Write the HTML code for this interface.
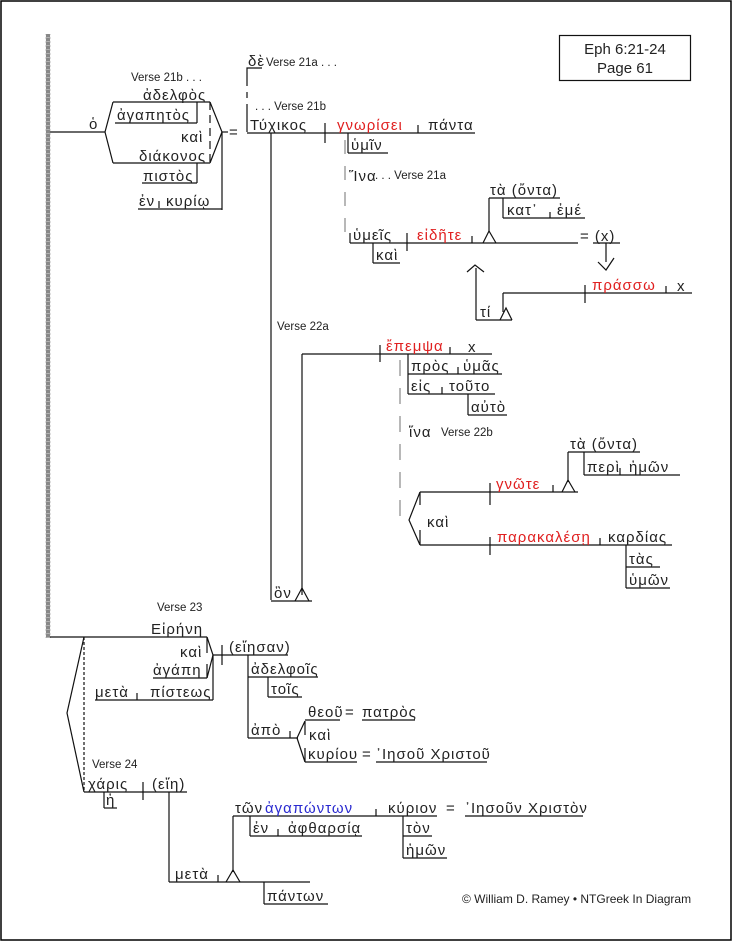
<!DOCTYPE html>
<html><head><meta charset="utf-8"><style>
html,body{margin:0;padding:0;background:#fff}
svg{display:block}
text{font-family:"Liberation Sans","DejaVu Sans",sans-serif;fill:#222}
.g{font-size:15px;letter-spacing:1px}
.v{font-size:11.5px}
.r{fill:#e02020}
.b{fill:#2a2ad0}
</style></head><body>
<svg width="733" height="942" viewBox="0 0 733 942" xmlns="http://www.w3.org/2000/svg">
<defs>
<pattern id="ch" x="45" y="0" width="7" height="4" patternUnits="userSpaceOnUse">
<path d="M1,0 L5,2 L1,4 M5,0 L1,2 L5,4" stroke="#555" stroke-width="0.8" fill="none"/>
</pattern>
</defs>
<rect x="1" y="1" width="730" height="939" fill="none" stroke="#000" stroke-width="1.5"/>
<rect x="45" y="34" width="7" height="604" fill="url(#ch)"/>
<g stroke="#111" stroke-width="1.2" fill="none">
<line x1="50" y1="132" x2="105" y2="132"/>
<polyline points="113,102 105,132 113,163"/>
<line x1="113" y1="102" x2="210" y2="102"/>
<line x1="113" y1="163" x2="210" y2="163"/>
<line x1="115" y1="123" x2="197" y2="123"/>
<line x1="197" y1="102" x2="197" y2="123"/>
<line x1="210" y1="102" x2="210" y2="163" stroke-dasharray="8,5"/>
<polyline points="210,102 222,132 210,163"/>
<line x1="222" y1="132" x2="222" y2="210"/>
<line x1="142" y1="183" x2="197" y2="183"/>
<line x1="197" y1="163" x2="197" y2="183"/>
<line x1="138" y1="209" x2="222" y2="209"/>
<line x1="159" y1="201" x2="159" y2="208"/>
<line x1="222" y1="132" x2="228" y2="132"/>
<polyline points="262,68 247,68 247,86"/>
<line x1="247" y1="92" x2="247" y2="98"/>
<line x1="247" y1="104" x2="247" y2="132"/>
<line x1="247" y1="133" x2="475" y2="133"/>
<line x1="325" y1="123" x2="325" y2="143"/>
<line x1="418" y1="125" x2="418" y2="133"/>
<line x1="271" y1="133" x2="271" y2="600"/>
<line x1="348" y1="133" x2="348" y2="153"/>
<line x1="348" y1="153" x2="388" y2="153"/>
<line x1="345" y1="140" x2="345" y2="240" stroke="#888" stroke-dasharray="14,12"/>
<line x1="350" y1="243" x2="578" y2="243"/>
<line x1="350" y1="233" x2="350" y2="243"/>
<line x1="407" y1="233" x2="407" y2="251"/>
<line x1="472" y1="236" x2="472" y2="243"/>
<line x1="373" y1="243" x2="373" y2="263"/>
<line x1="373" y1="263" x2="400" y2="263"/>
<polyline points="483,243 489,231 496,243"/>
<line x1="489" y1="231" x2="489" y2="198"/>
<line x1="489" y1="198" x2="560" y2="198"/>
<line x1="503" y1="198" x2="503" y2="218"/>
<line x1="503" y1="218" x2="585" y2="218"/>
<line x1="550" y1="212" x2="550" y2="218"/>
<line x1="593" y1="243" x2="620" y2="243"/>
<line x1="606" y1="243" x2="606" y2="262"/>
<polyline points="598,262 606,270 614,258"/>
<polyline points="467,272 475,265 484,272"/>
<line x1="476" y1="268" x2="476" y2="320"/>
<line x1="476" y1="320" x2="512" y2="320"/>
<polyline points="500,320 506,308 512,320"/>
<line x1="503" y1="312" x2="503" y2="293"/>
<line x1="503" y1="293" x2="692" y2="293"/>
<line x1="585" y1="285" x2="585" y2="303"/>
<line x1="666" y1="286" x2="666" y2="293"/>
<line x1="302" y1="354" x2="492" y2="354"/>
<line x1="302" y1="354" x2="302" y2="595"/>
<line x1="380" y1="345" x2="380" y2="362"/>
<line x1="450" y1="347" x2="450" y2="354"/>
<line x1="408" y1="354" x2="408" y2="394"/>
<line x1="408" y1="374" x2="502" y2="374"/>
<line x1="458" y1="367" x2="458" y2="374"/>
<line x1="408" y1="394" x2="495" y2="394"/>
<line x1="442" y1="387" x2="442" y2="394"/>
<line x1="468" y1="394" x2="468" y2="415"/>
<line x1="468" y1="415" x2="507" y2="415"/>
<line x1="400" y1="360" x2="400" y2="518" stroke="#888" stroke-dasharray="16,12"/>
<polyline points="420,492 409,520 420,545"/>
<line x1="420" y1="492" x2="578" y2="492"/>
<line x1="420" y1="492" x2="420" y2="505"/>
<line x1="420" y1="530" x2="420" y2="545"/>
<line x1="490" y1="483" x2="490" y2="505"/>
<line x1="553" y1="485" x2="553" y2="492"/>
<polyline points="562,492 568,480 575,492"/>
<line x1="568" y1="482" x2="568" y2="452"/>
<line x1="568" y1="452" x2="640" y2="452"/>
<line x1="584" y1="452" x2="584" y2="475"/>
<line x1="584" y1="475" x2="680" y2="475"/>
<line x1="620" y1="468" x2="620" y2="475"/>
<line x1="420" y1="545" x2="672" y2="545"/>
<line x1="490" y1="537" x2="490" y2="555"/>
<line x1="600" y1="538" x2="600" y2="545"/>
<line x1="626" y1="545" x2="626" y2="588"/>
<line x1="626" y1="567" x2="660" y2="567"/>
<line x1="626" y1="588" x2="670" y2="588"/>
<line x1="271" y1="601" x2="312" y2="601"/>
<polyline points="295,601 302,588 309,601"/>
<line x1="50" y1="637" x2="207" y2="637"/>
<line x1="207" y1="637" x2="207" y2="653"/>
<polyline points="207,637 213,655 207,678"/>
<line x1="153" y1="678" x2="207" y2="678"/>
<line x1="207" y1="664" x2="207" y2="678"/>
<line x1="213" y1="655" x2="213" y2="700"/>
<line x1="95" y1="700" x2="213" y2="700"/>
<line x1="137" y1="693" x2="137" y2="700"/>
<line x1="213" y1="655" x2="288" y2="655"/>
<line x1="222" y1="645" x2="222" y2="665"/>
<line x1="248" y1="655" x2="248" y2="738"/>
<line x1="248" y1="677" x2="318" y2="677"/>
<line x1="268" y1="677" x2="268" y2="697"/>
<line x1="268" y1="697" x2="302" y2="697"/>
<line x1="248" y1="738" x2="298" y2="738"/>
<line x1="290" y1="731" x2="290" y2="738"/>
<polyline points="305,721 297,738 305,762"/>
<line x1="305" y1="721" x2="305" y2="735"/>
<line x1="305" y1="748" x2="305" y2="762"/>
<line x1="305" y1="720" x2="340" y2="720"/>
<line x1="362" y1="720" x2="415" y2="720"/>
<line x1="305" y1="762" x2="357" y2="762"/>
<line x1="376" y1="762" x2="487" y2="762"/>
<line x1="84" y1="637" x2="84" y2="792" stroke-dasharray="3,2"/>
<polyline points="84,637 67,713 84,792"/>
<line x1="84" y1="792" x2="187" y2="792"/>
<line x1="143" y1="782" x2="143" y2="800"/>
<line x1="104" y1="792" x2="104" y2="808"/>
<line x1="104" y1="808" x2="117" y2="808"/>
<line x1="169" y1="792" x2="169" y2="882"/>
<line x1="169" y1="882" x2="310" y2="882"/>
<line x1="218" y1="875" x2="218" y2="882"/>
<polyline points="226,882 233,870 240,882"/>
<line x1="233" y1="872" x2="233" y2="816"/>
<line x1="233" y1="816" x2="437" y2="816"/>
<line x1="376" y1="809" x2="376" y2="816"/>
<line x1="465" y1="816" x2="583" y2="816"/>
<line x1="250" y1="816" x2="250" y2="836"/>
<line x1="250" y1="836" x2="362" y2="836"/>
<line x1="278" y1="829" x2="278" y2="836"/>
<line x1="403" y1="816" x2="403" y2="858"/>
<line x1="403" y1="836" x2="432" y2="836"/>
<line x1="403" y1="858" x2="447" y2="858"/>
<line x1="264" y1="882" x2="264" y2="904"/>
<line x1="264" y1="904" x2="328" y2="904"/>
</g>
<rect x="559.5" y="35.5" width="131" height="45" fill="none" stroke="#111" stroke-width="1.2"/>
<text x="625" y="54" text-anchor="middle" style="font-size:15px">Eph 6:21-24</text>
<text x="625" y="73" text-anchor="middle" style="font-size:15px">Page 61</text>
<g class="g">
<text x="89" y="129">ὁ</text>
<text x="143" y="100">ἀδελφὸς</text>
<text x="117" y="120">ἀγαπητὸς</text>
<text x="181" y="142">καὶ</text>
<text x="139" y="161">διάκονος</text>
<text x="143" y="181">πιστὸς</text>
<text x="139" y="206">ἐν</text>
<text x="166" y="206">κυρίῳ</text>
<text x="229" y="137">=</text>
<text x="248" y="66">δὲ</text>
<text x="250" y="130">Τύχικος</text>
<text x="337" y="130" class="r">γνωρίσει</text>
<text x="428" y="130">πάντα</text>
<text x="351" y="150">ὑμῖν</text>
<text x="349" y="181">Ἵνα</text>
<text x="353" y="240">ὑμεῖς</text>
<text x="376" y="260">καὶ</text>
<text x="417" y="240" class="r">εἰδῆτε</text>
<text x="490" y="195">τὰ (ὄντα)</text>
<text x="507" y="215">κατ᾽</text>
<text x="557" y="215">ἐμέ</text>
<text x="580" y="241">= (x)</text>
<text x="480" y="317">τί</text>
<text x="592" y="290" class="r">πράσσω</text>
<text x="677" y="291">x</text>
<text x="386" y="351" class="r">ἔπεμψα</text>
<text x="468" y="352">x</text>
<text x="411" y="371">πρὸς</text>
<text x="463" y="371">ὑμᾶς</text>
<text x="411" y="391">εἰς</text>
<text x="449" y="391">τοῦτο</text>
<text x="471" y="412">αὐτὸ</text>
<text x="409" y="437">ἵνα</text>
<text x="570" y="449">τὰ (ὄντα)</text>
<text x="587" y="472">περὶ</text>
<text x="629" y="472">ἡμῶν</text>
<text x="496" y="489" class="r">γνῶτε</text>
<text x="427" y="527">καὶ</text>
<text x="497" y="542" class="r">παρακαλέσῃ</text>
<text x="608" y="542">καρδίας</text>
<text x="629" y="564">τὰς</text>
<text x="629" y="585">ὑμῶν</text>
<text x="274" y="598">ὃν</text>
<text x="151" y="634">Εἰρήνη</text>
<text x="180" y="657">καὶ</text>
<text x="153" y="675">ἀγάπη</text>
<text x="95" y="697">μετὰ</text>
<text x="150" y="697">πίστεως</text>
<text x="229" y="652">(εἴησαν)</text>
<text x="251" y="674">ἀδελφοῖς</text>
<text x="271" y="694">τοῖς</text>
<text x="251" y="735">ἀπὸ</text>
<text x="308" y="717">θεοῦ</text>
<text x="345" y="717">=</text>
<text x="362" y="717">πατρὸς</text>
<text x="309" y="740">καὶ</text>
<text x="308" y="759">κυρίου</text>
<text x="362" y="759">=</text>
<text x="376" y="759">᾿Ιησοῦ Χριστοῦ</text>
<text x="88" y="789">χάρις</text>
<text x="152" y="789">(εἴη)</text>
<text x="106" y="805">ἡ</text>
<text x="235" y="813">τῶν</text>
<text x="265" y="813" class="b">ἀγαπώντων</text>
<text x="388" y="813">κύριον</text>
<text x="446" y="813">=</text>
<text x="465" y="813">᾿Ιησοῦν Χριστὸν</text>
<text x="253" y="833">ἐν</text>
<text x="288" y="833">ἀφθαρσίᾳ</text>
<text x="406" y="833">τὸν</text>
<text x="406" y="855">ἡμῶν</text>
<text x="175" y="879">μετὰ</text>
<text x="267" y="901">πάντων</text>
</g>
<g class="v">
<text x="131" y="81">Verse 21b . . .</text>
<text x="266" y="66">Verse 21a . . .</text>
<text x="255" y="110">. . . Verse 21b</text>
<text x="375" y="179">. . . Verse 21a</text>
<text x="277" y="330">Verse 22a</text>
<text x="441" y="436">Verse 22b</text>
<text x="157" y="611">Verse 23</text>
<text x="92" y="768">Verse 24</text>
<text x="462" y="903" style="font-size:12px">© William D. Ramey • NTGreek In Diagram</text>
</g>
</svg>
</body></html>
